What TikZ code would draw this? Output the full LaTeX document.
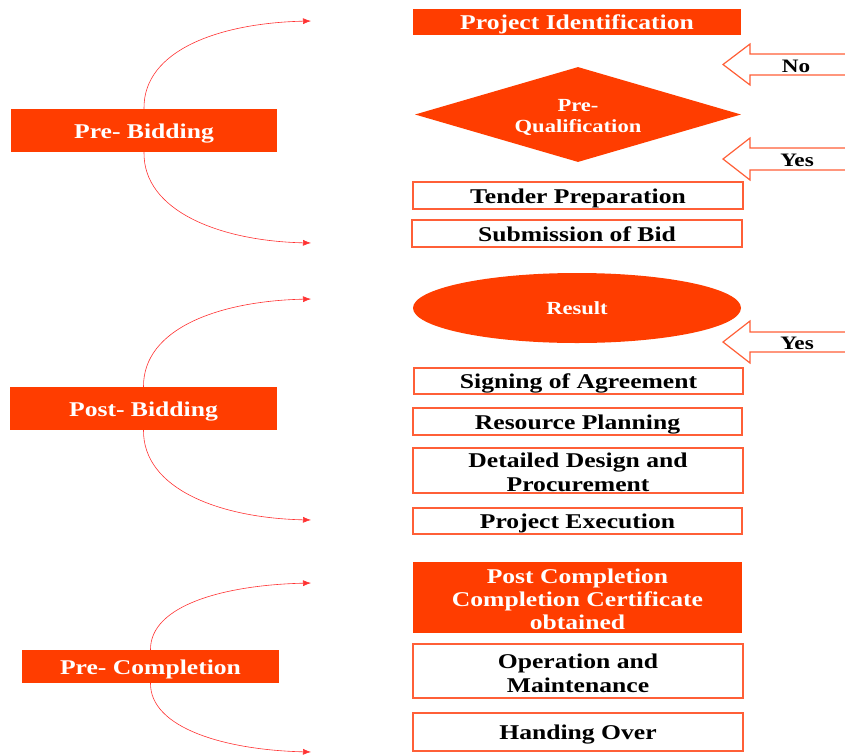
\documentclass[tikz,border=0pt]{standalone}
\usepackage{fontspec}
\setmainfont{Liberation Serif}[FakeStretch=1.22]
\usetikzlibrary{shapes.geometric,arrows.meta}
\definecolor{org}{RGB}{255,61,0}
\definecolor{orgline}{RGB}{255,95,55}
\definecolor{arcred}{RGB}{255,50,50}
\newcommand{\firstup}[1]{\rule{0pt}{#1}}
\tikzset{
  phase/.style={fill=org,draw=none,inner sep=0pt,text=white,font=\bfseries\fontsize{21}{24}\selectfont,align=center,text height=15pt,text depth=0pt},
  solidbox/.style={fill=org,draw=none,inner sep=0pt,text=white,font=\bfseries\fontsize{21}{23}\selectfont,align=center},
  outbox/.style={draw=orgline,line width=1.3pt,fill=white,inner sep=0pt,text=black,font=\bfseries\fontsize{21}{24}\selectfont,align=center},
  oneline/.style={text height=15pt,text depth=0pt},
  smalltext/.style={font=\bfseries\fontsize{18.5}{21}\selectfont},
  conn/.style={draw=arcred,line width=0.6pt,-{Latex[length=8pt,width=6pt]}},
  blockarrow/.style={draw=orgline,line width=1.2pt,fill=white,line join=miter},
}
\begin{document}
\begin{tikzpicture}[x=1pt,y=-1pt]
\useasboundingbox (0,0) rectangle (845,755);
% phases
\node[phase,minimum width=266pt,minimum height=43pt] (prebid) at (144,130.5) {Pre- Bidding};
\node[phase,minimum width=267pt,minimum height=43pt] (postbid) at (143.5,408.5) {Post- Bidding};
\node[phase,minimum width=257pt,minimum height=33pt] (precomp) at (150.5,666.5) {Pre- Completion};
% steps
\node[solidbox,oneline,minimum width=328pt,minimum height=26pt] (projid) at (577,22) {Project Identification};
\node[diamond,aspect=3.4,fill=org,draw=none,inner sep=0pt,minimum width=326pt,minimum height=95pt,text=white,smalltext,align=center] (prequal) at (578,114.5) {\firstup{18pt}Pre-\\Qualification};
\node[outbox,oneline,minimum width=330pt,minimum height=27pt] (tender) at (578,195.5) {Tender Preparation};
\node[outbox,oneline,minimum width=330pt,minimum height=27pt] (submit) at (577,233.5) {Submission of Bid};
\node[ellipse,fill=org,draw=none,inner sep=0pt,minimum width=328pt,minimum height=70pt,text=white,smalltext,text height=12pt,text depth=0pt] (result) at (577,308) {Result};
\node[outbox,oneline,minimum width=329pt,minimum height=26pt] (sign) at (578.5,381) {Signing of Agreement};
\node[outbox,oneline,minimum width=329pt,minimum height=27pt] (resource) at (577.5,421.5) {Resource Planning};
\node[outbox,minimum width=330pt,minimum height=45pt] (design) at (578,470.5) {\firstup{19pt}Detailed Design and\\Procurement};
\node[outbox,oneline,minimum width=329pt,minimum height=26pt] (exec) at (577.5,521) {Project Execution};
\node[solidbox,minimum width=329pt,minimum height=71pt] (postcomp) at (577.5,597.5) {\firstup{19pt}Post Completion\\Completion Certificate\\obtained};
\node[outbox,minimum width=330pt,minimum height=54pt] (om) at (578,671) {\firstup{19pt}Operation and\\Maintenance};
\node[outbox,oneline,minimum width=330pt,minimum height=38pt] (handover) at (578,732) {Handing Over};
% block arrows
\draw[blockarrow] (846,54) -- (750,54) -- (750,44) -- (723,64.5) -- (750,85) -- (750,75) -- (846,75);
\node[font=\bfseries\fontsize{19}{21}\selectfont,inner sep=0pt] (no) at (796,66) {No};
\draw[blockarrow] (846,148) -- (750,148) -- (750,138) -- (723,159) -- (750,180) -- (750,170) -- (846,170);
\node[font=\bfseries\fontsize{19}{21}\selectfont,inner sep=0pt] (yes1) at (797,160) {Yes};
\draw[blockarrow] (846,332) -- (750,332) -- (750,321) -- (723,342) -- (750,363) -- (750,352) -- (846,352);
\node[font=\bfseries\fontsize{19}{21}\selectfont,inner sep=0pt] (yes2) at (797,343) {Yes};
% arc connectors
\coordinate (pb1) at (311,21);
\coordinate (pb2) at (311,243);
\coordinate (qb1) at (311,299);
\coordinate (qb2) at (311,520);
\coordinate (pc1) at (311,583);
\coordinate (pc2) at (311,752);
\draw[conn] (prebid.north) .. controls (143,50) and (220,23) .. (pb1);
\draw[conn] (prebid.south) .. controls (143,211) and (220,241) .. (pb2);
\draw[conn] (postbid.north) .. controls (143,328) and (220,301) .. (qb1);
\draw[conn] (postbid.south) .. controls (143,489) and (220,518) .. (qb2);
\draw[conn] (precomp.north) .. controls (150,605) and (225,585) .. (pc1);
\draw[conn] (precomp.south) .. controls (150,728) and (225,750) .. (pc2);
\end{tikzpicture}
\end{document}
